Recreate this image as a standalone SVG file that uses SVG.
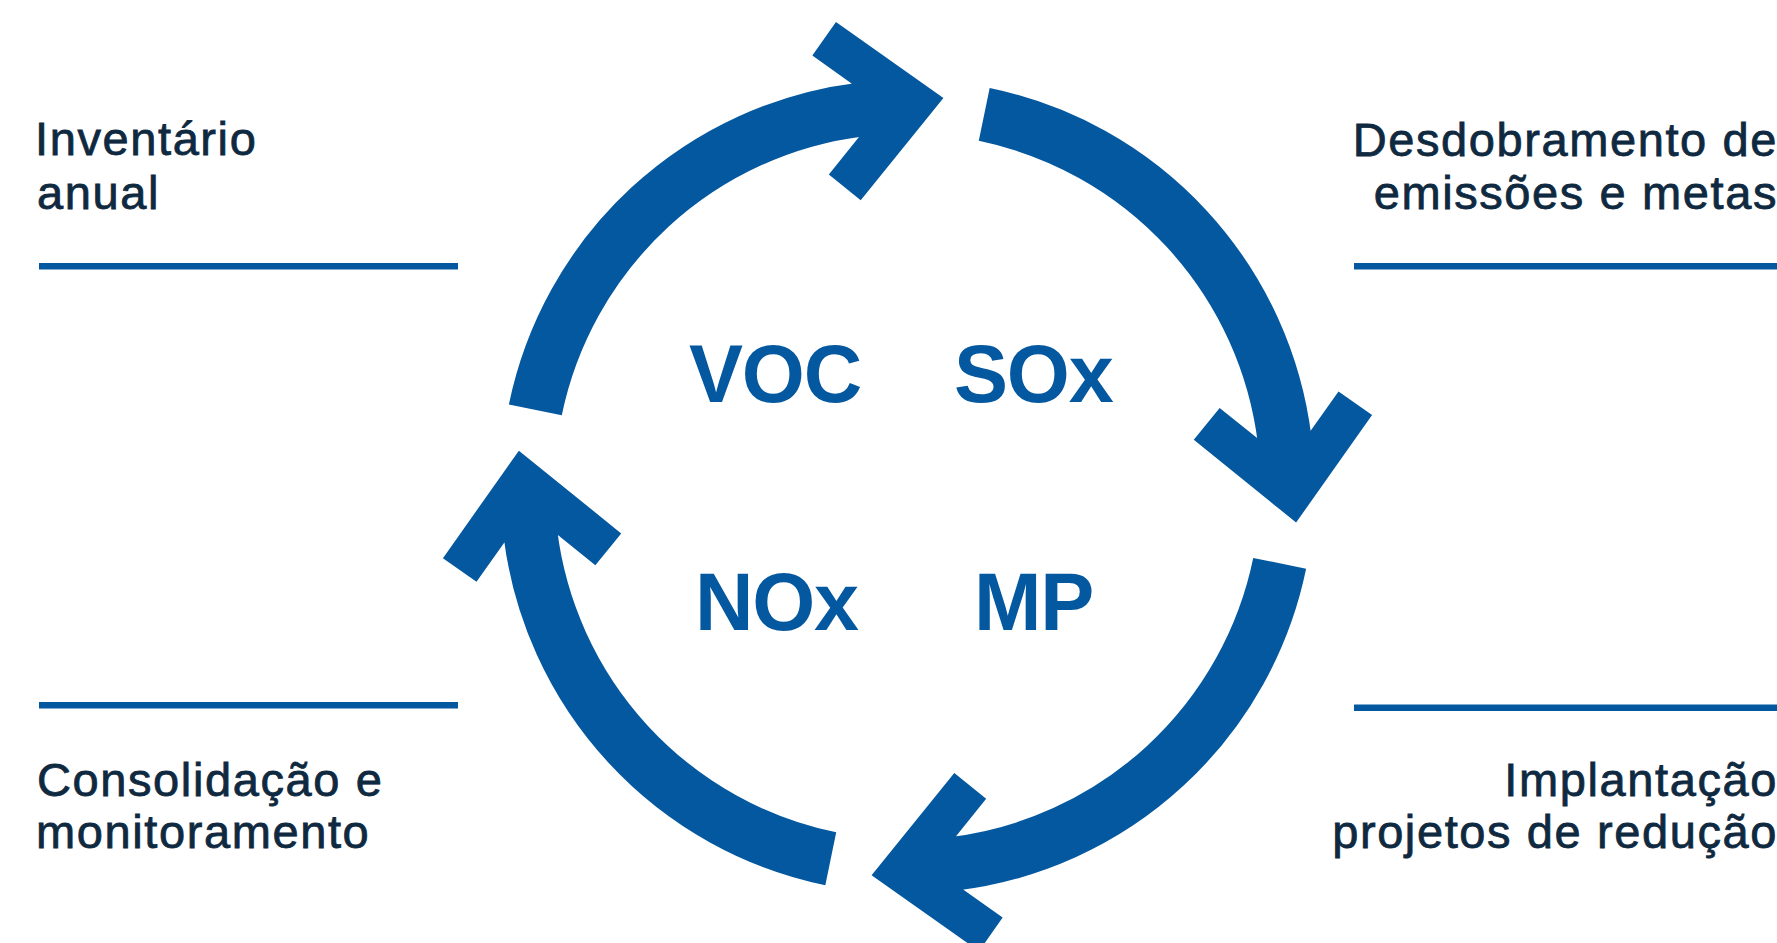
<svg xmlns="http://www.w3.org/2000/svg" width="1777" height="943" viewBox="0 0 1777 943">
  <style>
    .bg { fill: #ffffff; }
    .lbl { font-family: "Liberation Sans", Arial, sans-serif; font-size: 47px; fill: #0f2940; stroke: #0f2940; stroke-width: 0.8px; letter-spacing: 1.6px; }
    .r { text-anchor: end; }
    .gas { font-family: "Liberation Sans", Arial, sans-serif; font-size: 81px; font-weight: bold; fill: #04589f; letter-spacing: -1.2px; }
    .rule { fill: #04589f; }
    .arc { fill: none; stroke: #04589f; stroke-width: 54; stroke-linecap: butt; }
    .head { fill: #04589f; }
  </style>
  <defs>
    <g id="arrow">
      <path class="arc" d="M535.33,409.87 A380,380 0 0,1 861.19,109.43"/>
      <polygon class="head" transform="translate(943.42,97.98) rotate(-7.9)" points="0,0 -96,-90 -124,-60 -89,-27 -89,27 -124,60 -96,90"/>
    </g>
  </defs>
  <rect class="bg" x="0" y="0" width="1777" height="943"/>

  <g id="connectors">
    <use id="arrow-top" href="#arrow"/>
    <use id="arrow-right" href="#arrow" transform="rotate(90 907.5 486.6)"/>
    <use id="arrow-bottom" href="#arrow" transform="rotate(180 907.5 486.6)"/>
    <use id="arrow-left" href="#arrow" transform="rotate(270 907.5 486.6)"/>
  </g>

  <g id="node-inventario">
    <text class="lbl" x="35" y="155">Inventário</text>
    <text class="lbl" x="37" y="209">anual</text>
    <rect class="rule" x="39" y="263" width="419" height="6.5"/>
  </g>
  <g id="node-desdobramento">
    <text class="lbl r" x="1778" y="156">Desdobramento de</text>
    <text class="lbl r" x="1778" y="209">emissões e metas</text>
    <rect class="rule" x="1354" y="263" width="423" height="6.5"/>
  </g>
  <g id="node-consolidacao">
    <rect class="rule" x="39" y="702" width="419" height="6.5"/>
    <text class="lbl" x="37" y="796">Consolidação e</text>
    <text class="lbl" x="36" y="848">monitoramento</text>
  </g>
  <g id="node-implantacao">
    <rect class="rule" x="1354" y="704.5" width="423" height="6.5"/>
    <text class="lbl r" x="1778" y="796">Implantação</text>
    <text class="lbl r" x="1778" y="848">projetos de redução</text>
  </g>

  <g id="node-voc"><text class="gas" x="689" y="402">VOC</text></g>
  <g id="node-sox"><text class="gas" x="954" y="402">SOx</text></g>
  <g id="node-nox"><text class="gas" x="695" y="630">NOx</text></g>
  <g id="node-mp"><text class="gas" x="974" y="630">MP</text></g>
</svg>
